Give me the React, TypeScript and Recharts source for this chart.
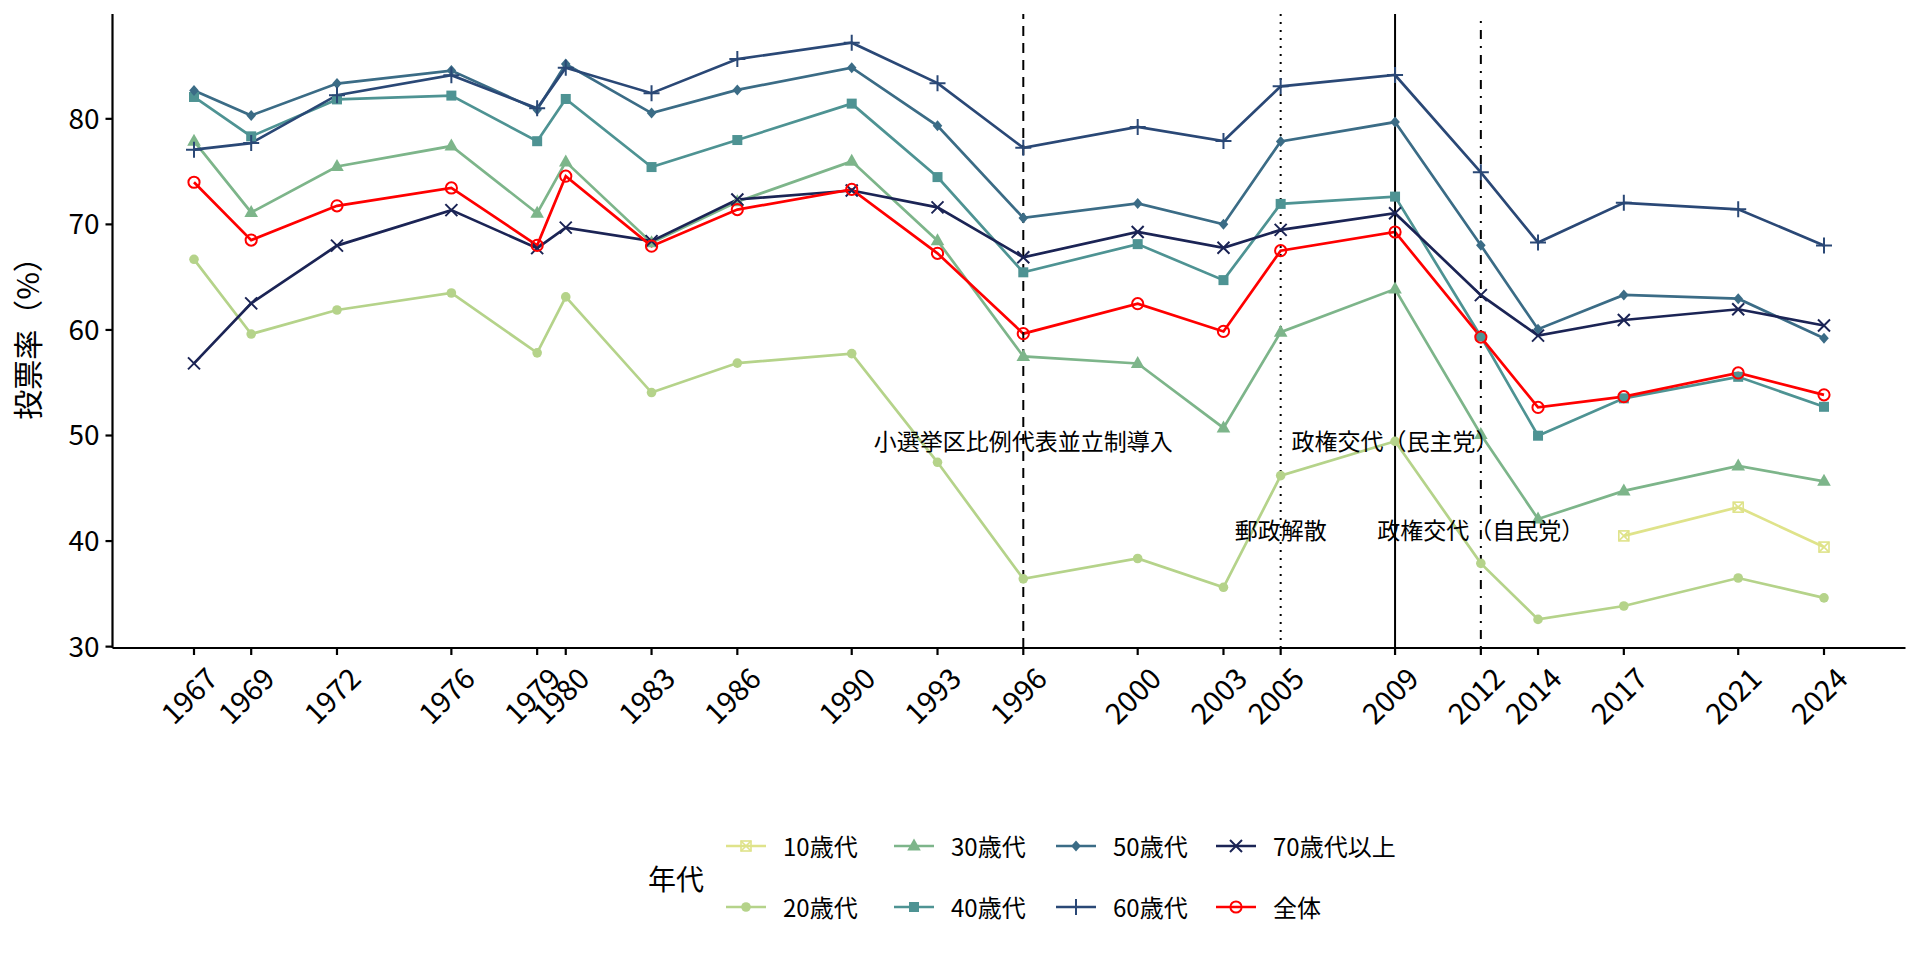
import React from "react";
import {
  LineChart,
  Line,
  XAxis,
  YAxis,
  ReferenceLine,
  ReferenceDot,
} from "recharts";

const FONT = '"Noto Sans CJK JP", "Noto Sans", sans-serif';

const years = [
  1967, 1969, 1972, 1976, 1979, 1980, 1983, 1986, 1990, 1993, 1996, 2000,
  2003, 2005, 2009, 2012, 2014, 2017, 2021, 2024,
];

const age10s = [
  null, null, null, null, null, null, null, null, null, null, null, null,
  null, null, null, null, null, 40.49, 43.21, 39.43,
];
const age20s = [
  66.69, 59.61, 61.89, 63.5, 57.83, 63.13, 54.07, 56.86, 57.76, 47.46, 36.42,
  38.35, 35.62, 46.2, 49.45, 37.89, 32.58, 33.85, 36.5, 34.62,
];
const age30s = [
  77.88, 71.13, 75.48, 77.42, 71.06, 75.92, 68.27, 72.15, 75.97, 68.46, 57.49,
  56.82, 50.72, 59.79, 63.87, 50.1, 42.09, 44.75, 47.12, 45.66,
];
const age40s = [
  82.07, 78.34, 81.84, 82.2, 77.88, 81.88, 75.43, 77.99, 81.44, 74.48, 65.46,
  68.13, 64.72, 71.94, 72.63, 59.38, 49.98, 53.52, 55.56, 52.72,
];
const age50s = [
  82.68, 80.32, 83.34, 84.57, 80.87, 85.19, 80.54, 82.74, 84.85, 79.34, 70.61,
  71.98, 70.01, 77.86, 79.69, 68.02, 60.07, 63.32, 62.96, 59.21,
];
const age60s = [
  77.08, 77.7, 82.24, 84.13, 80.99, 84.84, 82.43, 85.66, 87.21, 83.38, 77.25,
  79.23, 77.89, 83.08, 84.15, 74.93, 68.28, 72.04, 71.43, 68.01,
];
const age70plus = [
  56.83, 62.52, 67.99, 71.35, 67.75, 69.69, 68.41, 72.36, 73.21, 71.61, 66.88,
  69.28, 67.78, 69.48, 71.06, 63.3, 59.46, 60.94, 61.96, 60.42,
];
const total = [
  73.99, 68.51, 71.76, 73.45, 68.01, 74.57, 67.94, 71.4, 73.31, 67.26, 59.65,
  62.49, 59.86, 67.51, 69.28, 59.32, 52.66, 53.68, 55.93, 53.85,
];

const yTicks = [30, 40, 50, 60, 70, 80];

const events = [
  { year: 1996, y: 49.4, label: "小選挙区比例代表並立制導入", dash: "10 7" },
  { year: 2005, y: 41.0, label: "郵政解散", dash: "2 6" },
  { year: 2009, y: 49.4, label: "政権交代（民主党）", dash: undefined },
  { year: 2012, y: 41.0, label: "政権交代（自民党）", dash: "2 7 9 7" },
];

const series = [
  { key: "s10", name: "10歳代", values: age10s, color: "#dfe38a", shape: "sqcross" },
  { key: "s20", name: "20歳代", values: age20s, color: "#b5d38a", shape: "circle" },
  { key: "s30", name: "30歳代", values: age30s, color: "#7db58a", shape: "triangle" },
  { key: "s40", name: "40歳代", values: age40s, color: "#4e9393", shape: "square" },
  { key: "s50", name: "50歳代", values: age50s, color: "#3b6c86", shape: "diamond" },
  { key: "s60", name: "60歳代", values: age60s, color: "#2a4876", shape: "plus" },
  { key: "s70", name: "70歳代以上", values: age70plus, color: "#1b2455", shape: "cross" },
  { key: "all", name: "全体", values: total, color: "#ff0000", shape: "open" },
];

const rows = years.map((year, i) => {
  const row: Record<string, number | null> = { year };
  series.forEach((s) => {
    row[s.key] = s.values[i];
  });
  return row;
});

function Marker({ shape, color, cx, cy }: { shape: string; color: string; cx: number; cy: number }) {
  switch (shape) {
    case "circle":
      return <circle cx={cx} cy={cy} r={4.8} fill={color} />;
    case "triangle":
      return (
        <polygon
          points={`${cx},${cy - 7.5} ${cx - 6.8},${cy + 4.5} ${cx + 6.8},${cy + 4.5}`}
          fill={color}
        />
      );
    case "square":
      return <rect x={cx - 5} y={cy - 5} width={10} height={10} fill={color} />;
    case "diamond":
      return (
        <polygon
          points={`${cx},${cy - 5.5} ${cx + 4.8},${cy} ${cx},${cy + 5.5} ${cx - 4.8},${cy}`}
          fill={color}
        />
      );
    case "plus":
      return (
        <path
          d={`M${cx - 8},${cy}H${cx + 8}M${cx},${cy - 8}V${cy + 8}`}
          stroke={color}
          strokeWidth={2}
        />
      );
    case "cross":
      return (
        <path
          d={`M${cx - 6},${cy - 6}L${cx + 6},${cy + 6}M${cx - 6},${cy + 6}L${cx + 6},${cy - 6}`}
          stroke={color}
          strokeWidth={2}
        />
      );
    case "open":
      return <circle cx={cx} cy={cy} r={5.6} fill="none" stroke={color} strokeWidth={2} />;
    case "sqcross":
      return (
        <g stroke={color} strokeWidth={1.6} fill="none">
          <rect x={cx - 5} y={cy - 5} width={10} height={10} />
          <path d={`M${cx - 5},${cy - 5}L${cx + 5},${cy + 5}M${cx - 5},${cy + 5}L${cx + 5},${cy - 5}`} />
        </g>
      );
    default:
      return null;
  }
}

function makeDot(shape: string, color: string) {
  return (props: any) => {
    const { cx, cy, index, value } = props;
    if (cx == null || cy == null || value == null || (Array.isArray(value) && value[1] == null)) {
      return <g key={`e-${index}`} />;
    }
    return (
      <g key={`d-${index}`}>
        <Marker shape={shape} color={color} cx={cx} cy={cy} />
      </g>
    );
  };
}

function XTick(props: any) {
  const { x, y, payload } = props;
  const ax = x + 11;
  const ay = y + 9;
  return (
    <text
      x={ax}
      y={ay}
      dy="0.71em"
      textAnchor="end"
      transform={`rotate(-45 ${ax} ${ay})`}
      fontSize={29}
      fontFamily={FONT}
      fill="#000"
    >
      {payload.value}
    </text>
  );
}

function LegendBlock() {
  const cols = [746, 914, 1076, 1236];
  const rowsY = [846, 907];
  return (
    <div style={{ position: "absolute", left: 0, top: 0, width: 1920, height: 960, pointerEvents: "none", fontFamily: FONT }}>
      <div
        style={{ position: "absolute", left: 648, top: 878 - 18, fontSize: 28, lineHeight: "36px", color: "#000" }}
      >
        年代
      </div>
      {series.map((s, i) => {
        const col = Math.floor(i / 2);
        const row = i % 2;
        const cx = cols[col];
        const cy = rowsY[row];
        return (
          <React.Fragment key={s.key}>
            <svg
              style={{ position: "absolute", left: cx - 20, top: cy - 15 }}
              width={40}
              height={30}
            >
              <line x1={0} y1={15} x2={40} y2={15} stroke={s.color} strokeWidth={2.7} />
              <Marker shape={s.shape} color={s.color} cx={20} cy={15} />
            </svg>
            <div
              style={{ position: "absolute", left: cx + 37, top: cy - 16, fontSize: 24, lineHeight: "32px", color: "#000", whiteSpace: "nowrap" }}
            >
              {s.name}
            </div>
          </React.Fragment>
        );
      })}
    </div>
  );
}

export default function App() {
  return (
    <div style={{ position: "absolute", left: 0, top: 0, width: 1920, height: 960, background: "#fff" }}>
      <LineChart
        width={1920}
        height={960}
        data={rows}
        margin={{ top: 14, right: 14.5, bottom: 0, left: 0 }}
      >
        <XAxis
          dataKey="year"
          type="number"
          domain={[1964.15, 2026.85]}
          allowDataOverflow
          ticks={years}
          interval={0}
          height={312}
          tickSize={7}
          tick={<XTick />}
          axisLine={{ stroke: "#000", strokeWidth: 2.2 }}
          tickLine={{ stroke: "#000", strokeWidth: 2.2 }}
        />
        <YAxis
          type="number"
          domain={[29.87, 89.93]}
          allowDataOverflow
          ticks={yTicks}
          interval={0}
          width={112.5}
          tickSize={7}
          tickMargin={6}
          tick={{ fontSize: 28, fontFamily: FONT, fill: "#000" }}
          axisLine={{ stroke: "#000", strokeWidth: 2.2 }}
          tickLine={{ stroke: "#000", strokeWidth: 2.2 }}
          label={(p: any) => (
            <text
              x={26}
              y={331}
              transform="rotate(-90 26 331)"
              textAnchor="middle"
              dominantBaseline="central"
              fontSize={30}
              fontFamily={FONT}
              fill="#000"
            >
              投票率（%）
            </text>
          )}
        />
        {series.map((s) => (
          <Line
            key={s.key}
            dataKey={s.key}
            name={s.name}
            stroke={s.color}
            strokeWidth={2.7}
            dot={makeDot(s.shape, s.color)}
            activeDot={false}
            isAnimationActive={false}
            connectNulls={false}
          />
        ))}
        {events.map((e) => (
          <ReferenceLine
            key={`v-${e.year}`}
            x={e.year}
            stroke="#000"
            strokeWidth={2}
            strokeDasharray={e.dash}
          />
        ))}
        {events.map((e) => (
          <ReferenceDot
            key={`t-${e.year}`}
            x={e.year}
            y={e.y}
            r={0}
            fill="none"
            stroke="none"
            label={{ value: e.label, position: "center", fontSize: 23, fontFamily: FONT, fill: "#000" }}
          />
        ))}
      </LineChart>
      <LegendBlock />
    </div>
  );
}
